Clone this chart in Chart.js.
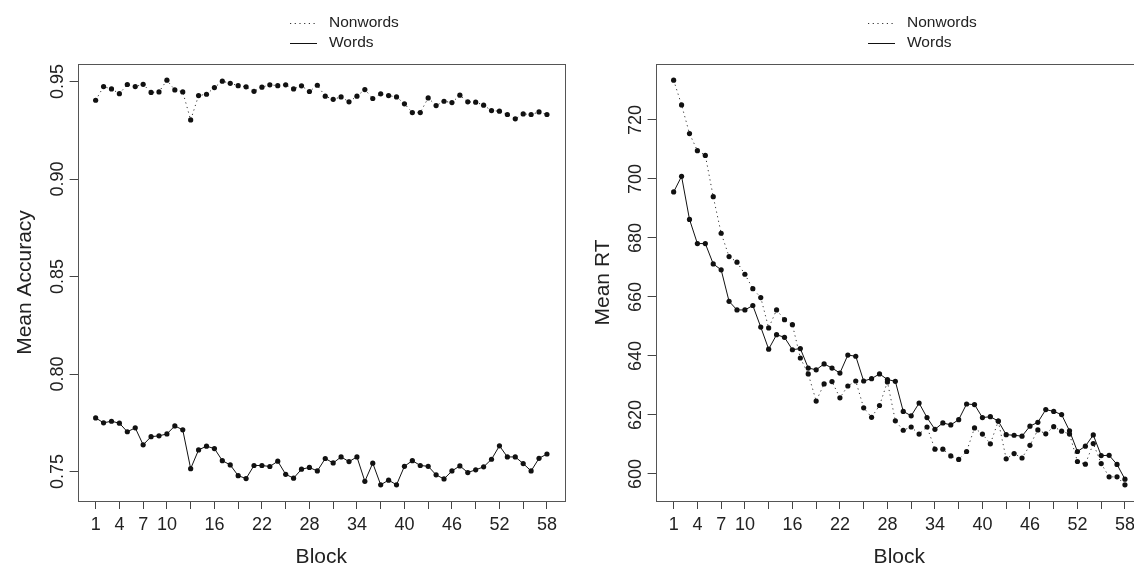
<!DOCTYPE html>
<html>
<head>
<meta charset="utf-8">
<script src="https://cdn.jsdelivr.net/npm/chart.js@4.4.1/dist/chart.umd.min.js"></script>
<style>
  html, body { margin: 0; padding: 0; background: #fff; }
  body { width: 1134px; height: 568px; overflow: hidden; position: relative; }
  canvas { position: absolute; top: 0; }
  #acc { left: 0px; }
  #rt { left: 578.4px; }
</style>
</head>
<body>
<canvas id="acc" width="600" height="568"></canvas>
<canvas id="rt" width="600" height="568"></canvas>
<script>
// blocks (x categories)
const blocks = [1,2,3,4,5,6,7,8,9,10,11,12,13,14,15,16,17,18,19,20,21,22,23,24,25,26,27,28,29,30,
                31,32,33,34,35,36,37,38,39,40,41,42,43,44,45,46,47,48,49,50,51,52,53,54,55,56,57,58];

// left panel: mean accuracy
const accNonwords = [0.9404,0.9474,0.9462,0.9438,0.9485,0.9474,0.9486,0.9444,0.9447,0.9507,
                     0.9457,0.9447,0.9303,0.9428,0.9435,0.9469,0.9502,0.9491,0.9479,0.9473,
                     0.9450,0.9471,0.9483,0.9479,0.9483,0.9462,0.9478,0.9449,0.9481,0.9425,
                     0.9409,0.9421,0.9396,0.9425,0.9459,0.9413,0.9437,0.9428,0.9421,0.9386,
                     0.9341,0.9341,0.9416,0.9377,0.9399,0.9392,0.9430,0.9396,0.9394,0.9379,
                     0.9351,0.9348,0.9331,0.9309,0.9334,0.9331,0.9344,0.9331];
const accWords = [0.7775,0.7750,0.7758,0.7748,0.7704,0.7724,0.7637,0.7679,0.7683,0.7693,
                  0.7734,0.7714,0.7515,0.7611,0.7630,0.7618,0.7556,0.7534,0.7479,0.7464,
                  0.7531,0.7531,0.7526,0.7553,0.7486,0.7466,0.7512,0.7521,0.7503,0.7567,
                  0.7544,0.7575,0.7551,0.7575,0.7450,0.7543,0.7432,0.7456,0.7432,0.7527,
                  0.7556,0.7531,0.7527,0.7483,0.7462,0.7503,0.7529,0.7495,0.7509,0.7524,
                  0.7563,0.7632,0.7575,0.7575,0.7541,0.7503,0.7568,0.7590];

// right panel: mean RT
const rtNonwords = [733.5,725.1,715.4,709.6,708.0,694.0,681.6,673.7,671.8,667.7,
                    662.8,659.8,649.5,655.6,652.3,650.6,639.3,633.9,624.7,630.5,
                    631.3,625.8,629.8,631.5,622.4,619.2,623.2,631.2,618.0,614.8,
                    615.9,613.5,615.9,608.4,608.4,606.1,604.9,607.6,615.6,613.5,
                    610.2,617.9,605.1,606.9,605.4,609.7,614.9,613.6,616.0,614.5,
                    613.5,604.2,603.3,610.3,603.5,599.0,599.0,596.3];
const rtWords = [695.6,700.9,686.3,678.1,678.1,671.2,669.2,658.5,655.6,655.6,
                 657.1,649.8,642.3,647.2,646.3,642.1,642.5,635.9,635.3,637.3,
                 635.9,634.2,640.3,639.9,631.5,632.3,633.9,632.0,631.4,621.2,
                 619.7,624.0,619.1,615.1,617.3,616.6,618.4,623.7,623.5,619.1,
                 619.4,617.9,613.3,613.1,612.8,616.2,617.5,621.8,621.2,620.1,
                 614.6,607.6,609.4,613.2,606.2,606.3,603.2,598.2];

// tick marks / labels
const xTicks = [1,4,7,10,13,16,19,22,25,28,31,34,37,40,43,46,49,52,55,58];
const xLabelsShown = [1,4,7,10,16,22,28,34,40,46,52,58];
const accTicks = [0.75,0.80,0.85,0.90,0.95];
const rtTicks = [600,620,640,660,680,700,720];

const FONT = "'Liberation Sans', Arial, Helvetica, sans-serif";

// R style range: 4% padding on both ends
function padRange(arrs){
    let lo = Infinity, hi = -Infinity;
    for (let a of arrs){ for (let v of a){ lo = Math.min(lo, v); hi = Math.max(hi, v); } }
    const p = (hi - lo) * 0.04;
    return [lo - p, hi + p];
}

function pts(ys){
    return blocks.map((b, i) => ({x: b, y: ys[i]}));
}

// box + rotated y labels + legend (R look)
const rLook = {
    id: 'rLook',
    afterDraw(chart, args, opts){
        const ctx = chart.ctx;
        const a = chart.chartArea;
        ctx.save();
        ctx.strokeStyle = '#555';
        ctx.lineWidth = 1;
        ctx.strokeRect(Math.round(a.left) + 0.5, Math.round(a.top) + 0.5,
                       Math.round(a.right - a.left), Math.round(a.bottom - a.top));

        // y tick labels, rotated like R (las = 0)
        const ys = chart.scales.y;
        ctx.fillStyle = '#222';
        ctx.font = '18px ' + FONT;
        ctx.textAlign = 'center';
        ctx.textBaseline = 'middle';
        for (let t of opts.yTicks){
            const py = ys.getPixelForValue(t);
            ctx.save();
            ctx.translate(a.left - 20, py);
            ctx.rotate(-Math.PI / 2);
            ctx.fillText(opts.fmt(t), 0, 0);
            ctx.restore();
        }

        // legend
        ctx.font = '15.5px ' + FONT;
        ctx.textAlign = 'left';
        ctx.strokeStyle = '#333';
        ctx.setLineDash([1.2, 3.5]);
        ctx.beginPath(); ctx.moveTo(290, 23.5); ctx.lineTo(317, 23.5); ctx.stroke();
        ctx.setLineDash([]);
        ctx.strokeStyle = '#111';
        ctx.beginPath(); ctx.moveTo(290, 43.5); ctx.lineTo(317, 43.5); ctx.stroke();
        ctx.fillText('Nonwords', 329, 23);
        ctx.fillText('Words', 329, 43);
        ctx.restore();
    }
};

function makeChart(id, nonwords, words, yTicks, yTitle, fmt){
    const yr = padRange([nonwords, words]);
    const xr = padRange([blocks]);
    const ctx = document.getElementById(id).getContext('2d');
    return new Chart(ctx, {
        type: 'line',
        data: {
            datasets: [{
                label: 'Nonwords',
                data: pts(nonwords),
                borderColor: '#333',
                borderWidth: 1,
                borderDash: [1.2, 3.5],
                pointRadius: 2.6,
                pointBorderWidth: 0,
                pointBackgroundColor: '#111',
                tension: 0
            }, {
                label: 'Words',
                data: pts(words),
                borderColor: '#111',
                borderWidth: 1,
                pointRadius: 2.6,
                pointBorderWidth: 0,
                pointBackgroundColor: '#111',
                tension: 0
            }]
        },
        options: {
            responsive: false,
            animation: false,
            layout: { padding: { left: 0, top: 64, right: 35, bottom: 0 } },
            plugins: {
                legend: { display: false },
                tooltip: { enabled: false },
                rLook: { yTicks: yTicks, fmt: fmt }
            },
            scales: {
                x: {
                    type: 'linear',
                    min: xr[0],
                    max: xr[1],
                    afterBuildTicks: (s) => { s.ticks = xTicks.map(v => ({value: v})); },
                    afterFit: (s) => { s.height = 67; },
                    ticks: {
                        autoSkip: false,
                        maxRotation: 0,
                        padding: 5,
                        color: '#222',
                        font: { family: FONT, size: 18 },
                        callback: (v) => xLabelsShown.includes(v) ? String(v) : ''
                    },
                    grid: { drawOnChartArea: false, drawTicks: true, tickLength: 8, color: '#444' },
                    border: { display: false },
                    title: {
                        display: true, text: 'Block', color: '#222',
                        font: { family: FONT, size: 21, lineHeight: 1 },
                        padding: { top: 0, bottom: 0.5 }
                    }
                },
                y: {
                    type: 'linear',
                    min: yr[0],
                    max: yr[1],
                    afterBuildTicks: (s) => { s.ticks = yTicks.map(v => ({value: v})); },
                    afterFit: (s) => { s.width = 77.6; },
                    ticks: { display: false },
                    grid: { drawOnChartArea: false, drawTicks: true, tickLength: 8, color: '#444' },
                    border: { display: false },
                    title: {
                        display: true, text: yTitle, color: '#222',
                        font: { family: FONT, size: 21, lineHeight: 1.2 },
                        padding: { top: 13, bottom: 0 }
                    }
                }
            }
        },
        plugins: [rLook]
    });
}

window.addEventListener("load", function (){
    makeChart('acc', accNonwords, accWords, accTicks, 'Mean Accuracy', (v) => v.toFixed(2));
    makeChart('rt', rtNonwords, rtWords, rtTicks, 'Mean RT', (v) => String(v));
});
</script>
</body>
</html>
